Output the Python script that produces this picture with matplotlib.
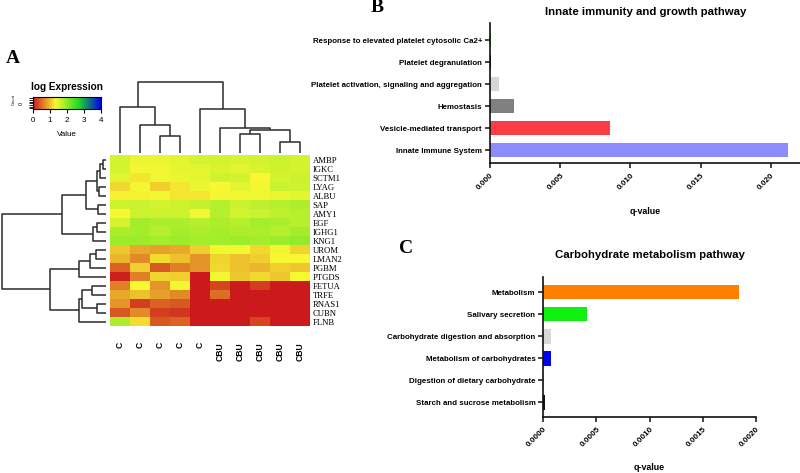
import numpy as np
import matplotlib
matplotlib.use('Agg')
import matplotlib.pyplot as plt
from matplotlib.colors import LinearSegmentedColormap

# ---------------- data ----------------
genes = ['AMBP', 'IGKC', 'SCTM1', 'LYAG', 'ALBU', 'SAP', 'AMY1', 'EGF', 'IGHG1', 'KNG1',
         'UROM', 'LMAN2', 'PGBM', 'PTGDS', 'FETUA', 'TRFE', 'RNAS1', 'CUBN', 'FLNB']
samples = ['C', 'C', 'C', 'C', 'C', 'CBU', 'CBU', 'CBU', 'CBU', 'CBU']

log_expr = np.array([
    [1.55, 1.42, 1.42, 1.48, 1.55, 1.55, 1.52, 1.55, 1.62, 1.55],
    [1.55, 1.36, 1.36, 1.45, 1.48, 1.52, 1.48, 1.52, 1.58, 1.55],
    [1.48, 1.22, 1.38, 1.42, 1.45, 1.58, 1.55, 1.33, 1.55, 1.62],
    [1.15, 1.36, 1.08, 1.22, 1.42, 1.33, 1.48, 1.36, 1.62, 1.58],
    [1.30, 1.30, 1.36, 1.22, 1.22, 1.36, 1.38, 1.38, 1.42, 1.48],
    [1.58, 1.62, 1.55, 1.58, 1.66, 1.74, 1.62, 1.70, 1.74, 1.80],
    [1.33, 1.58, 1.58, 1.58, 1.36, 1.74, 1.55, 1.62, 1.70, 1.74],
    [1.55, 1.85, 1.80, 1.80, 1.74, 1.80, 1.74, 1.85, 1.80, 1.74],
    [1.80, 1.85, 1.74, 1.85, 1.80, 1.85, 1.80, 1.80, 1.74, 1.85],
    [1.90, 1.90, 1.85, 1.90, 1.85, 1.85, 1.90, 1.85, 1.90, 1.95],
    [1.04, 0.87, 0.80, 0.87, 1.08, 1.38, 1.36, 1.15, 1.38, 1.12],
    [0.94, 0.68, 1.18, 1.00, 0.74, 1.12, 1.00, 1.08, 1.33, 1.33],
    [0.45, 1.08, 0.39, 0.62, 0.74, 1.15, 1.00, 0.94, 1.08, 1.04],
    [0.04, 0.62, 1.12, 1.08, 0.00, 1.36, 1.04, 1.15, 1.04, 1.33],
    [0.62, 1.33, 0.74, 1.36, 0.00, 0.27, 0.00, 0.22, 0.00, 0.00],
    [0.87, 1.00, 0.80, 0.68, 0.00, 0.50, 0.00, 0.00, 0.00, 0.00],
    [0.74, 0.22, 0.45, 0.39, 0.00, 0.00, 0.00, 0.00, 0.00, 0.00],
    [0.39, 0.68, 0.22, 0.18, 0.00, 0.00, 0.00, 0.00, 0.00, 0.00],
    [1.80, 1.18, 0.39, 0.45, 0.00, 0.00, 0.00, 0.27, 0.00, 0.00],
])

# dendrogram merges: (child a, child b, height); new nodes numbered n, n+1, ...
col_linkage = [(2, 3, 17.3), (1, 10, 28.3), (0, 11, 46.6), (8, 9, 11.6), (6, 7, 19.0),
               (14, 13, 23.3), (5, 15, 25.6), (4, 16, 44.0), (12, 17, 71.6)]
row_linkage = [(0, 1, 3), (19, 2, 6), (3, 4, 7), (20, 21, 9), (5, 6, 8), (22, 23, 20),
               (7, 8, 9), (25, 9, 13), (24, 26, 44), (10, 11, 10), (28, 12, 16),
               (29, 13, 27), (14, 15, 14), (16, 17, 9), (31, 32, 24), (33, 18, 27),
               (30, 34, 56), (27, 35, 104.5)]

immune_terms = ['Response to elevated platelet cytosolic Ca2+', 'Platelet degranulation',
                'Platelet activation, signaling and aggregation', 'Hemostasis',
                'Vesicle-mediated transport', 'Innate Immune System']
immune_q = [0.00008, 0.00008, 0.00064, 0.00174, 0.00852, 0.02121]
immune_colors = ['#00c000', '#1a1a1a', '#d6d6d6', '#808080', '#fa3c44', '#8c8cff']

carb_terms = ['Metabolism', 'Salivary secretion', 'Carbohydrate digestion and absorption',
              'Metabolism of carbohydrates', 'Digestion of dietary carbohydrate',
              'Starch and sucrose metabolism']
carb_q = [0.001838, 0.000407, 0.000069, 0.000069, 0.000010, 0.000015]
carb_colors = ['#ff8000', '#10f010', '#d8d8d8', '#0000ee', '#cfcfcf', '#111111']

# ---------------- figure ----------------
W, H = 800, 473
fig = plt.figure(figsize=(W / 100, H / 100), dpi=100)


def ax_px(x0, y0, x1, y1):
    return fig.add_axes([x0 / W, 1 - y1 / H, (x1 - x0) / W, (y1 - y0) / H])


cmap = LinearSegmentedColormap.from_list(
    'rygb', [(0, '#cc1a1c'), (1 / 3, '#f8f832'), (2 / 3, '#22dd22'), (1, '#0000ee')])

# heatmap
hx0, hy0, hx1, hy1 = 110, 155, 310, 326
axh = ax_px(hx0, hy0, hx1, hy1)
axh.imshow(log_expr, cmap=cmap, vmin=0, vmax=4, aspect='auto', interpolation='nearest',
           extent=(0, len(samples), len(genes), 0))
axh.set_xlim(0, len(samples))
axh.set_ylim(len(genes), 0)
for s in axh.spines.values():
    s.set_visible(False)
axh.yaxis.tick_right()
axh.set_yticks(np.arange(len(genes)) + 0.5)
axh.set_yticklabels(genes, family='Liberation Serif', fontsize=6.2)
axh.tick_params(axis='y', length=0, pad=2)
axh.set_xticks(np.arange(len(samples)) + 0.5)
axh.set_xticklabels(samples, rotation=90, fontsize=6.2, fontweight='bold',
                    family='Liberation Sans', va='top', ha='center')
axh.tick_params(axis='x', length=0, pad=11.5)


def dendro_segments(linkage, n):
    pos = {i: i + 0.5 for i in range(n)}
    hgt = {i: 0.0 for i in range(n)}
    segs = []
    for k, (a, b, h) in enumerate(linkage):
        node = n + k
        segs.append(([pos[a], pos[a], pos[b], pos[b]], [hgt[a], h, h, hgt[b]]))
        pos[node] = (pos[a] + pos[b]) / 2
        hgt[node] = h
    return segs


dcol = '#2b2b2b'
# column dendrogram
axc = ax_px(hx0, 78, hx1, hy0)
for xs, hs in dendro_segments(col_linkage, len(samples)):
    axc.plot(xs, hs, color=dcol, lw=1.1, solid_capstyle='butt')
axc.set_xlim(0, len(samples))
axc.set_ylim(-1.7, 75.3)
axc.axis('off')

# row dendrogram
axr = ax_px(0, hy0, 107, hy1)
for ys, hs in dendro_segments(row_linkage, len(genes)):
    axr.plot(hs, ys, color=dcol, lw=1.1, solid_capstyle='butt')
axr.set_ylim(len(genes), 0)
axr.set_xlim(106, -1)
axr.axis('off')

# colour key
axk = ax_px(33, 97.5, 101, 109)
grad = np.linspace(0, 4, 256)[None, :]
axk.imshow(grad, cmap=cmap, vmin=0, vmax=4, aspect='auto', extent=(0, 4, 0, 1))
axk.set_xlim(0, 4)
axk.set_ylim(0, 1)
for s in axk.spines.values():
    s.set_linewidth(0.8)
axk.set_xticks([0, 1, 2, 3, 4])
axk.set_xticklabels(['0', '1', '2', '3', '4'], fontsize=5.8, family='Liberation Sans')
axk.tick_params(axis='x', length=3, width=0.8, pad=2.5)
axk.set_yticks(np.linspace(0.05, 0.95, 7))
axk.set_yticklabels([])
axk.tick_params(axis='y', length=3, width=0.6)
fig.text(67 / W, 1 - 87 / H, 'log Expression', fontsize=7.2, fontweight='bold',
         family='Liberation Sans', ha='center', va='center')
fig.text(67 / W, 1 - 135 / H, 'Value', fontsize=5.8, family='Liberation Sans',
         ha='center', va='center')
fig.text(14 / W, 1 - 99 / H, 'Count', fontsize=3, family='Liberation Sans',
         ha='center', va='center', rotation=90)
fig.text(21 / W, 1 - 103 / H, '0', fontsize=4, family='Liberation Sans',
         ha='center', va='center', rotation=90)

# panel letters
for lab, x, y in [('A', 13, 58), ('B', 377, 8), ('C', 406, 248)]:
    fig.text(x / W, 1 - y / H, lab, fontsize=14, fontweight='bold',
             family='Liberation Serif', ha='center', va='center')


def bar_panel(box, terms, vals, colors, xmax, ticks, ticklabels, ylim, title, title_y,
              xlabel_y):
    ax = ax_px(*box)
    y = np.arange(len(terms))
    ax.barh(y, vals, height=0.65, color=colors, edgecolor='none')
    ax.set_ylim(*ylim)
    ax.set_xlim(0, xmax)
    ax.set_yticks(y)
    ax.set_yticklabels(terms, fontsize=5.7, fontweight='bold', family='Liberation Sans')
    ax.set_xticks(ticks)
    ax.set_xticklabels(ticklabels, fontsize=5.8, fontweight='bold', family='Liberation Sans',
                       rotation=45, ha='right', va='top', rotation_mode='anchor')
    ax.tick_params(axis='both', length=3.5, width=1.1, color='#111111', pad=2.2)
    ax.tick_params(axis='x', pad=3)
    for side in ('top', 'right'):
        ax.spines[side].set_visible(False)
    for side in ('left', 'bottom'):
        ax.spines[side].set_linewidth(1.2)
        ax.spines[side].set_color('#111111')
    x0, y0, x1, y1 = box
    fig.text((x0 + x1) / 2 / W, 1 - title_y / H, title, fontsize=8.2, fontweight='bold',
             family='Liberation Sans', ha='center', va='center')
    fig.text((x0 + x1) / 2 / W, 1 - xlabel_y / H, 'q-value', fontsize=6.4,
             fontweight='bold', family='Liberation Sans', ha='center', va='center')
    return ax


bar_panel((490, 23.3, 801, 163), immune_terms, immune_q, immune_colors, 0.02214,
          [0, 0.005, 0.010, 0.015, 0.020], ['0.000', '0.005', '0.010', '0.015', '0.020'],
          (5.59, -0.76), 'Innate immunity and growth pathway', 12, 211)

bar_panel((543.3, 276.7, 756, 416.7), carb_terms, carb_q, carb_colors, 0.0020,
          [0, 0.0005, 0.0010, 0.0015, 0.0020],
          ['0.0000', '0.0005', '0.0010', '0.0015', '0.0020'],
          (5.65, -0.71), 'Carbohydrate metabolism pathway', 255, 467)

fig.savefig('out.png', dpi=100)
